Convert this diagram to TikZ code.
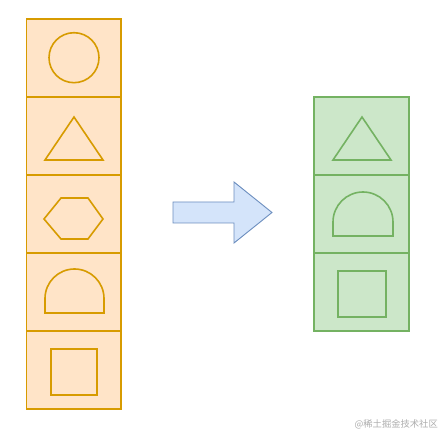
\documentclass[tikz,border=0pt]{standalone}
\usepackage{fontspec}
\newfontfamily\cjk{Noto Sans CJK SC}
\usepackage{tikz}
\usetikzlibrary{calc}
\definecolor{orangefill}{HTML}{FFE4C8}
\definecolor{orangeline}{HTML}{D79B00}
\definecolor{greenfill}{HTML}{CCE7C9}
\definecolor{greenline}{HTML}{74B262}
\definecolor{bluefill}{HTML}{D4E4FA}
\definecolor{blueline}{HTML}{6C8EBF}
\begin{document}
\begin{tikzpicture}[x=1pt,y=1pt,
  orangebox/.style={draw=orangeline,fill=orangefill,line width=1.8pt,minimum width=94.5pt,minimum height=78pt,inner sep=0pt},
  greenbox/.style={draw=greenline,fill=greenfill,line width=1.8pt,minimum width=95pt,minimum height=78pt,inner sep=0pt},
  orangeshape/.style={draw=orangeline,line width=1.6pt,line join=miter},
  greenshape/.style={draw=greenline,line width=1.6pt,line join=miter}]
\useasboundingbox (0,0) rectangle (442,434);
\fill[white] (0,0) rectangle (442,434);
% left column
\node[orangebox] (l1) at (73.75,376) {};
\node[orangebox] (l2) at (73.75,298) {};
\node[orangebox] (l3) at (73.75,220) {};
\node[orangebox] (l4) at (73.75,142) {};
\node[orangebox] (l5) at (73.75,64) {};
\draw[orangeshape] (74,376.3) circle (25);
\draw[orangeshape] (74,317) -- (103,274) -- (45,274) -- cycle;
\draw[orangeshape] (44,215) -- (61,236) -- (88,236) -- (103,215) -- (88,195) -- (61,195) -- cycle;
\draw[orangeshape] (45,121) -- (45,135.5) arc (180:0:29.5) -- (104,121) -- cycle;
\draw[orangeshape] (51,39) rectangle (97,85);
% arrow
\draw[blueline,fill=bluefill,line width=0.9pt,line join=miter] (173,232) -- (234,232) -- (234,252) -- (272,221.5) -- (234,191) -- (234,211) -- (173,211) -- cycle;
% right column
\node[greenbox] (r1) at (361.5,298) {};
\node[greenbox] (r2) at (361.5,220) {};
\node[greenbox] (r3) at (361.5,142) {};
\draw[greenshape] (362,317) -- (391,274) -- (333,274) -- cycle;
\draw[greenshape] (333,198) -- (333,212) arc (180:0:30) -- (393,198) -- cycle;
\draw[greenshape] (338,117) rectangle (386,163);
% watermark
\node[text=black!32,font=\cjk\fontsize{9.3}{11}\selectfont,anchor=east,inner sep=0pt] (mark) at (438,10) {@稀土掘金技术社区};
\end{tikzpicture}
\end{document}
